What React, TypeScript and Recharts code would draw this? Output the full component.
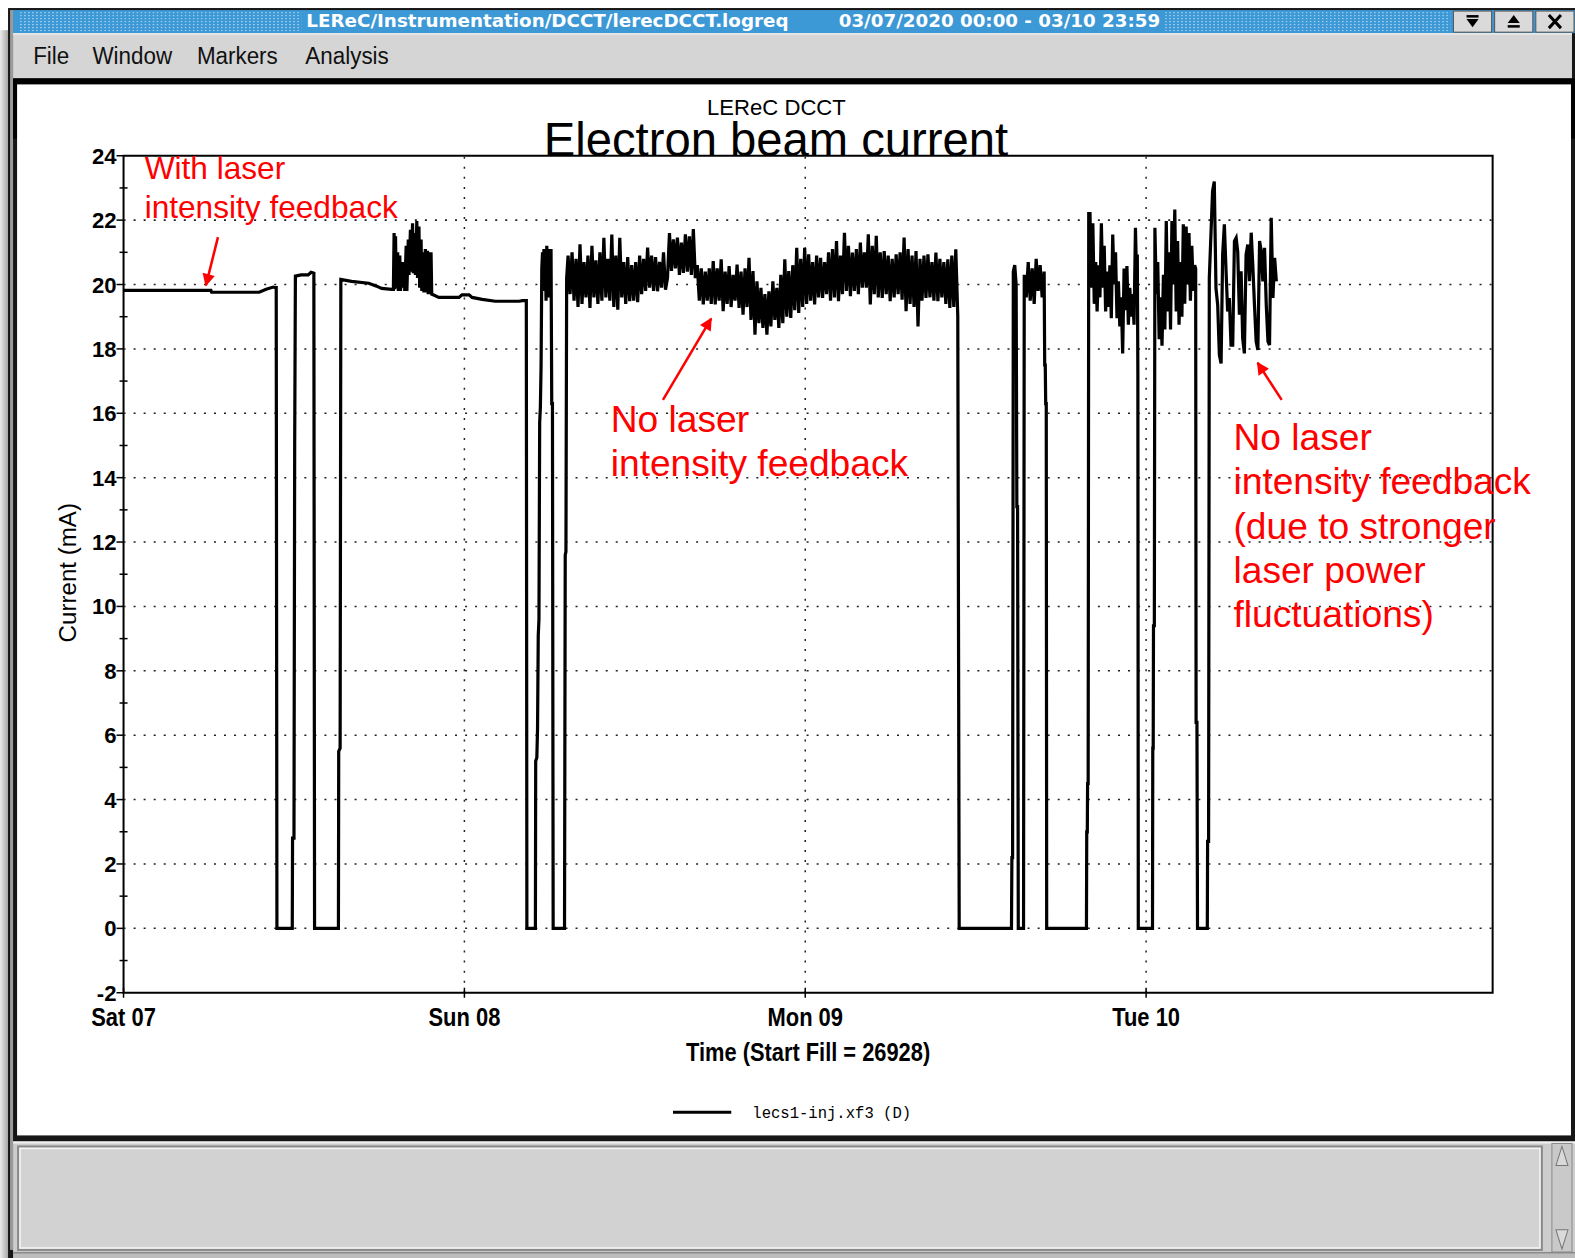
import { LineChart, Line, XAxis, YAxis, ReferenceLine, ReferenceArea } from "recharts";

// time in hours since Sat 03/07 00:00, current in mA
const fillSat: [number, number][] = [
  [0, 19.82], [6.15, 19.82], [6.2, 19.76], [9.55, 19.76], [10.04, 19.85], [10.54, 19.92], [10.68, 19.9], [10.75, 19.9], [10.8, 0],
  [11.88, 0], [11.9, 2.8], [12.0, 2.8], [12.05, 15.0], [12.1, 20.26], [12.5, 20.3], [13.0, 20.3], [13.2, 20.38], [13.4, 20.35], [13.45, 0],
  [15.13, 0], [15.15, 5.5], [15.25, 5.6], [15.3, 20.16], [16.05, 20.1], [17.26, 20.04], [17.82, 19.95], [18.17, 19.88], [18.88, 19.85],
];

const burstSat: [number, number][] = [
  [19.0, 19.85], [19.05, 21.6], [19.1, 19.85], [19.15, 21.5], [19.2, 19.9], [19.3, 21.0], [19.35, 19.8], [19.45, 20.9], [19.5, 19.8],
  [19.6, 20.7], [19.65, 19.9], [19.75, 20.7], [19.8, 19.8], [19.9, 21.2], [19.95, 19.8], [20.05, 21.4], [20.1, 20.3], [20.2, 21.7],
  [20.25, 20.4], [20.35, 21.9], [20.4, 20.35], [20.5, 21.6], [20.55, 20.3], [20.65, 21.97], [20.7, 20.2], [20.8, 21.8], [20.85, 19.9],
  [20.95, 21.4], [21.0, 19.8], [21.1, 21.0], [21.15, 19.75], [21.25, 21.1], [21.3, 19.75], [21.4, 21.05], [21.45, 19.7], [21.55, 21.0],
  [21.6, 19.7], [21.65, 21.0], [21.7, 19.7],
];

const tailSat: [number, number][] = [
  [21.8, 19.68], [22.2, 19.6], [23.62, 19.6], [23.83, 19.68], [24.33, 19.68], [24.54, 19.6], [25.25, 19.54], [26.17, 19.48],
  [27.86, 19.48], [28.08, 19.5], [28.36, 19.5], [28.4, 0],
];

const restartSun: [number, number][] = [
  [29.0, 0], [29.02, 5.2], [29.1, 5.3], [29.15, 6.2], [29.2, 9.1], [29.25, 9.6], [29.3, 15.7], [29.35, 16.2], [29.4, 17.5], [29.45, 20.5],
  [29.5, 21.0], [29.55, 19.8], [29.6, 21.1], [29.65, 20.0], [29.7, 20.8], [29.75, 19.5], [29.8, 21.2], [29.85, 20.3], [29.9, 20.9],
  [29.95, 19.6], [30.0, 21.1], [30.05, 20.2], [30.1, 21.1], [30.15, 16.3], [30.2, 16.3], [30.25, 0],
  [31.05, 0], [31.1, 11.6], [31.15, 11.7], [31.2, 20.2],
];

// logger samples every 0.14 h from 31.3 h, no laser intensity feedback
const runStart = 31.3;
const runStep = 0.14;
const runSunMon: number[] = [
  20.9, 19.7, 21.0, 19.5, 20.8, 19.3, 21.25, 19.4, 20.7, 19.6,
  20.9, 19.27, 21.2, 19.6, 20.75, 19.4, 21.0, 19.5, 21.45, 19.6,
  20.8, 19.5, 21.55, 19.3, 20.9, 19.22, 21.45, 19.6, 20.7, 19.4,
  20.85, 19.48, 20.6, 19.5, 20.7, 19.45, 20.9, 19.7, 20.8, 19.8,
  21.15, 19.9, 20.9, 19.8, 20.85, 19.79, 20.7, 19.9, 21.0, 19.84,
  20.2, 21.6, 20.42, 21.4, 20.5, 21.46, 20.3, 21.3, 20.36, 21.56,
  20.4, 21.5, 20.3, 21.72, 20.2, 20.6, 19.5, 20.5, 19.38, 20.4,
  19.5, 20.5, 19.4, 20.73, 19.38, 20.5, 19.5, 20.78, 19.17, 20.4,
  19.4, 20.57, 19.3, 20.3, 19.5, 20.62, 19.27, 20.4, 19.06, 20.5,
  19.3, 20.83, 18.9, 20.42, 18.44, 20.1, 18.8, 19.9, 18.65, 19.7,
  18.44, 19.79, 18.7, 20.1, 18.9, 19.9, 18.65, 20.3, 18.8, 20.78,
  19.0, 20.42, 18.96, 20.6, 19.2, 21.14, 19.12, 20.8, 19.3, 21.14,
  19.4, 20.94, 19.5, 20.7, 19.38, 20.9, 19.6, 20.83, 19.58, 20.7,
  19.7, 21.0, 19.5, 21.1, 19.6, 21.35, 19.48, 20.9, 19.7, 21.61,
  19.8, 21.2, 19.64, 20.99, 19.8, 21.1, 19.7, 21.3, 19.9, 21.0,
  19.9, 21.56, 19.38, 21.2, 19.7, 21.51, 19.6, 21.0, 19.58, 21.04,
  19.7, 20.9, 19.48, 20.8, 19.6, 20.94, 19.7, 21.0, 19.53, 21.46,
  19.17, 21.1, 19.4, 20.9, 19.3, 21.04, 18.7, 20.8, 19.5, 20.9,
  19.58, 20.94, 19.6, 20.7, 19.5, 20.99, 19.48, 20.8, 19.6, 20.7,
  19.4, 20.78, 19.27, 20.9, 19.3, 21.09, 19.01,
];

const eveningMon: [number, number][] = [
  [58.84, 0], [62.52, 0], [62.55, 2.2], [62.6, 2.2], [62.65, 20.4], [62.75, 20.6], [62.85, 20.0], [62.9, 13.1], [62.95, 13.1], [63.0, 0],
  [63.37, 0], [63.42, 20.3], [63.56, 19.6], [63.7, 20.7], [63.84, 19.5], [63.98, 20.5], [64.12, 19.4], [64.26, 20.8], [64.4, 19.8],
  [64.54, 20.6], [64.68, 19.6], [64.82, 20.4], [64.86, 17.5], [64.9, 17.5], [64.93, 16.3], [64.97, 16.3], [65.0, 0],
  [67.8, 0], [67.82, 3.0], [67.86, 3.0], [67.88, 4.5], [67.92, 4.5], [67.96, 22.2],
];

const tueFirst: [number, number][] = [
  [68.05, 22.2], [68.15, 19.9], [68.25, 21.9], [68.35, 19.4], [68.45, 20.7], [68.55, 19.16], [68.65, 20.6], [68.75, 19.6],
  [68.85, 21.9], [68.95, 19.9], [69.05, 21.2], [69.15, 19.16], [69.25, 20.4], [69.35, 19.3], [69.45, 20.6], [69.55, 18.95],
  [69.65, 21.55], [69.75, 20.0], [69.85, 21.0], [69.95, 18.95], [70.05, 20.1], [70.15, 18.7], [70.25, 19.6], [70.35, 17.86],
  [70.45, 20.5], [70.55, 19.2], [70.65, 20.57], [70.75, 18.75], [70.85, 19.9], [70.95, 19.0], [71.05, 19.7], [71.15, 18.75],
  [71.25, 21.76], [71.32, 20.4], [71.38, 20.93], [71.42, 17.3], [71.45, 0],
];

const tueSecond: [number, number][] = [
  [72.45, 0], [72.47, 5.6], [72.5, 5.6], [72.52, 9.4], [72.58, 9.4], [72.62, 21.76], [72.72, 19.7], [72.82, 20.7], [72.92, 18.3],
  [73.02, 19.6], [73.12, 18.1], [73.22, 20.3], [73.32, 18.6], [73.42, 21.97], [73.52, 19.16], [73.62, 21.0], [73.72, 18.6],
  [73.82, 21.97], [73.92, 20.0], [74.02, 22.33], [74.12, 19.16], [74.22, 21.35], [74.32, 18.75], [74.42, 20.7], [74.52, 19.0],
  [74.62, 21.87], [74.72, 19.4], [74.82, 21.8], [74.92, 20.0], [75.02, 21.6], [75.12, 19.5], [75.22, 21.2], [75.32, 19.8],
  [75.42, 20.6], [75.49, 20.5], [75.52, 6.4], [75.58, 6.4], [75.62, 0], [76.31, 0], [76.33, 2.7], [76.4, 2.7],
];

const tueThird: [number, number][] = [
  [76.45, 20.2], [76.68, 22.9], [76.8, 23.2], [76.92, 19.89], [77.04, 19.37], [77.16, 17.81], [77.28, 17.55], [77.39, 20.93],
  [77.51, 21.87], [77.63, 20.41], [77.74, 19.16], [77.86, 19.58], [77.98, 18.12], [78.1, 18.12], [78.22, 21.35], [78.34, 21.45],
  [78.45, 21.03], [78.57, 19.06], [78.69, 20.41], [78.8, 18.33], [78.92, 17.86], [79.04, 20.93], [79.16, 21.24], [79.28, 20.1],
  [79.4, 21.61], [79.51, 20.62], [79.63, 19.37], [79.75, 18.23], [79.87, 17.97], [79.99, 21.35], [80.11, 21.03], [80.22, 20.1],
  [80.34, 21.14], [80.46, 19.37], [80.58, 18.23], [80.69, 18.12], [80.81, 22.07], [80.93, 19.58], [81.05, 20.83], [81.17, 20.1],
];

const dayTicks = [0, 24, 48, 72];
const dayLabels = ["Sat 07", "Sun 08", "Mon 09", "Tue 10"];
const currentTicks = [-2, -1, 0, 1, 2, 3, 4, 5, 6, 7, 8, 9, 10, 11, 12, 13, 14, 15, 16, 17, 18, 19, 20, 21, 22, 23, 24];
const gridCurrents = [0, 2, 4, 6, 8, 10, 12, 14, 16, 18, 20, 22];
const gridDays = [24, 48, 72];

const trace = [
  ...fillSat,
  ...burstSat,
  ...tailSat,
  ...restartSun,
  ...runSunMon.map((v, i) => [runStart + runStep * i, v] as [number, number]),
  ...eveningMon,
  ...tueFirst,
  ...tueSecond,
  ...tueThird,
].map(([h, v]) => ({ h, v }));

// layout is drawn in a 1568x1252 frame, then scaled up to the 1575x1258 page
const W = 1568;
const H = 1252;
const PLOT_LEFT = 123;
const PLOT_BOTTOM = 988;
const SANS = "'Liberation Sans', Arial, Helvetica, sans-serif";
const MONO = "'Liberation Mono', 'DejaVu Sans Mono', monospace";
const RED = "#ff0000";

function CurrentTick(props: any) {
  const { y, payload } = props;
  const v = payload.value as number;
  const major = v % 2 === 0;
  return (
    <g>
      <line x1={major ? PLOT_LEFT - 7 : PLOT_LEFT - 4} x2={major ? PLOT_LEFT : PLOT_LEFT + 4} y1={y} y2={y} stroke="#000" strokeWidth={1.5} />
      {major && (
        <text x={PLOT_LEFT - 7} y={y + 8} textAnchor="end" fontFamily={SANS} fontWeight="bold" fontSize={22} fill="#000">
          {v}
        </text>
      )}
    </g>
  );
}

function DayTick(props: any) {
  const { x, payload } = props;
  const label = dayLabels[dayTicks.indexOf(payload.value)];
  return (
    <g>
      <line x1={x} x2={x} y1={PLOT_BOTTOM - 5} y2={PLOT_BOTTOM + 5} stroke="#000" strokeWidth={1.5} />
      <text transform={`translate(${x},1021) scale(0.84,1)`} textAnchor="middle" fontFamily={SANS} fontWeight="bold" fontSize={26} fill="#000">
        {label}
      </text>
    </g>
  );
}

function WindowFrame() {
  return (
    <svg width={W} height={H} style={{ position: "absolute", left: 0, top: 0 }}>
      <defs>
        <pattern id="titleDots" width="4" height="3" patternUnits="userSpaceOnUse">
          <rect width="4" height="3" fill="#3d98d6" />
          <rect x="0" y="0" width="1.5" height="1" fill="#a6d2f2" />
        </pattern>
        <linearGradient id="desk" x1="0" y1="0" x2="1" y2="0">
          <stop offset="0" stopColor="#ececec" />
          <stop offset="1" stopColor="#a8a8a8" />
        </linearGradient>
      </defs>
      <rect width={W} height={H} fill="#ffffff" />
      <rect x={0} y={30} width={8} height={H - 30} fill="url(#desk)" />
      <rect x={8} y={8} width={1560} height={H - 8} fill="#161616" />

      {/* title bar */}
      <rect x={12} y={10} width={1556} height={23} fill="#3d98d6" />
      <rect x={20} y={12} width={280} height={19} fill="url(#titleDots)" />
      <rect x={1160} y={12} width={284} height={19} fill="url(#titleDots)" />
      <text x={305} y={27} fontFamily="'DejaVu Sans', sans-serif" fontWeight="bold" fontSize={18} fill="#ffffff" textLength={480} lengthAdjust="spacingAndGlyphs">
        LEReC/Instrumentation/DCCT/lerecDCCT.logreq
      </text>
      <text x={835} y={27} fontFamily="'DejaVu Sans', sans-serif" fontWeight="bold" fontSize={18} fill="#ffffff" textLength={320} lengthAdjust="spacingAndGlyphs">
        03/07/2020 00:00 - 03/10 23:59
      </text>
      {[1447, 1488, 1529].map((bx) => (
        <rect key={bx} x={bx} y={11} width={38} height={21} fill="#dadada" stroke="#555" strokeWidth={1} />
      ))}
      <rect x={1460} y={15} width={12} height={2.5} fill="#000" />
      <path d="M1460,19 L1472,19 L1466,27 Z" fill="#000" />
      <path d="M1501,23 L1513,23 L1507,15 Z" fill="#000" />
      <rect x={1501} y={25} width={12} height={2.5} fill="#000" />
      <path d="M1542,15 L1554,28 M1554,15 L1542,28" stroke="#000" strokeWidth={3} />

      {/* menu bar */}
      <rect x={10} y={10} width={3} height={H - 18} fill="#9a9a9a" />
      <rect x={13} y={33} width={1552} height={45} fill="#d5d5d5" />
      <rect x={13} y={33} width={1552} height={1.5} fill="#ededed" />
      {[
        ["File", 33],
        ["Window", 92],
        ["Markers", 196],
        ["Analysis", 304],
      ].map(([t, x]) => (
        <text key={t as string} transform={`translate(${x},64) scale(0.93,1)`} fontFamily={SANS} fontSize={24} fill="#111">
          {t}
        </text>
      ))}

      {/* plot panel */}
      <rect x={13} y={78} width={1555} height={60} fill="#000" />
      <rect x={17} y={84} width={1547} height={1046} fill="#ffffff" />

      {/* message panel */}
      <rect x={13} y={1136} width={1555} height={112} fill="#cdcdcd" />
      <rect x={13} y={1136} width={1555} height={2} fill="#f2f2f2" />
      <rect x={18} y={1141} width={1517} height={103} fill="#d2d2d2" stroke="#8a8a8a" strokeWidth={2} />
      <rect x={20} y={1143} width={1513} height={99} fill="none" stroke="#f4f4f4" strokeWidth={1.5} />
      <rect x={1545} y={1138} width={20} height={108} fill="#c9c9c9" stroke="#8a8a8a" strokeWidth={1} />
      <path d="M1549,1160 L1555,1141 L1561,1160 Z" fill="#d9d9d9" stroke="#777" strokeWidth={1} />
      <path d="M1549,1224 L1555,1243 L1561,1224 Z" fill="#d9d9d9" stroke="#777" strokeWidth={1} />
      <rect x={13} y={1246} width={1555} height={6} fill="#bcbcbc" />
      <rect x={13} y={1246} width={1555} height={1.5} fill="#8a8a8a" />
    </svg>
  );
}

function Overlay() {
  return (
    <svg width={W} height={H} style={{ position: "absolute", left: 0, top: 0, pointerEvents: "none" }}>
      <defs>
        <marker id="redHead" viewBox="0 0 10 10" refX="9" refY="5" markerWidth="6" markerHeight="5" orient="auto">
          <path d="M0,0 L10,5 L0,10 Z" fill={RED} />
        </marker>
      </defs>
      <text x={773} y={114} textAnchor="middle" fontFamily={SANS} fontSize={22} fill="#000">
        LEReC DCCT
      </text>
      <text x={772.5} y={155} textAnchor="middle" fontFamily={SANS} fontSize={47} fill="#000">
        Electron beam current
      </text>

      <text transform="translate(804.5,1056) scale(0.87,1)" textAnchor="middle" fontFamily={SANS} fontWeight="bold" fontSize={25} fill="#000">
        Time (Start Fill = 26928)
      </text>
      <text transform="translate(76,570) rotate(-90)" textAnchor="middle" fontFamily={SANS} fontSize={24} fill="#000">
        Current (mA)
      </text>

      <line x1={670} x2={728} y1={1107} y2={1107} stroke="#000" strokeWidth={3} />
      <text x={749} y={1113} fontFamily={MONO} fontSize={15.5} fill="#000">
        lecs1-inj.xf3 (D)
      </text>

      <g fontFamily={SANS} fill={RED}>
        <text x={144} y={178} fontSize={31.5}>With laser</text>
        <text x={144} y={217} fontSize={31.5}>intensity feedback</text>
        <text x={608} y={430} fontSize={37}>No laser</text>
        <text x={608} y={474} fontSize={37}>intensity feedback</text>
        <text x={1228} y={448} fontSize={37}>No laser</text>
        <text x={1228} y={492} fontSize={37}>intensity feedback</text>
        <text x={1228} y={536} fontSize={37}>(due to stronger</text>
        <text x={1228} y={580} fontSize={37}>laser power</text>
        <text x={1228} y={624} fontSize={37}>fluctuations)</text>
      </g>
      <g stroke={RED} strokeWidth={2.5} markerEnd="url(#redHead)">
        <line x1={217} y1={236} x2={205} y2={284} />
        <line x1={660} y1={398} x2={708} y2={317} />
        <line x1={1276} y1={398} x2={1252} y2={361} />
      </g>
    </svg>
  );
}

export default function App() {
  return (
    <div style={{ position: "absolute", left: 0, top: 0, width: 1575, height: 1258, overflow: "hidden", background: "#fff" }}>
      <div style={{ position: "absolute", left: 0, top: 0, width: W, height: H, transform: `scale(${1575 / W}, ${1258 / H})`, transformOrigin: "0 0" }}>
        <WindowFrame />
        <div style={{ position: "absolute", left: 0, top: 0 }}>
          <LineChart width={W} height={H} data={trace} margin={{ top: 155, right: 82, bottom: 224, left: 63 }}>
            <XAxis
              type="number"
              dataKey="h"
              domain={[0, 96.4]}
              ticks={dayTicks}
              interval={0}
              height={40}
              tick={DayTick}
              tickLine={false}
              axisLine={false}
              allowDataOverflow
            />
            <YAxis
              type="number"
              domain={[-2, 24]}
              ticks={currentTicks}
              interval={0}
              width={60}
              tick={CurrentTick}
              tickLine={false}
              axisLine={false}
              allowDataOverflow
            />
            {gridCurrents.map((c) => (
              <ReferenceLine key={`y${c}`} y={c} stroke="#222" strokeWidth={1.5} strokeDasharray="2 8" />
            ))}
            {gridDays.map((d) => (
              <ReferenceLine key={`x${d}`} x={d} stroke="#222" strokeWidth={1.5} strokeDasharray="2 8" />
            ))}
            <ReferenceArea x1={0} x2={96.4} y1={-2} y2={24} fill="none" fillOpacity={0} stroke="#000" strokeWidth={2} />
            <Line type="linear" dataKey="v" stroke="#000" strokeWidth={3.2} dot={false} isAnimationActive={false} />
          </LineChart>
        </div>
        <Overlay />
      </div>
    </div>
  );
}
